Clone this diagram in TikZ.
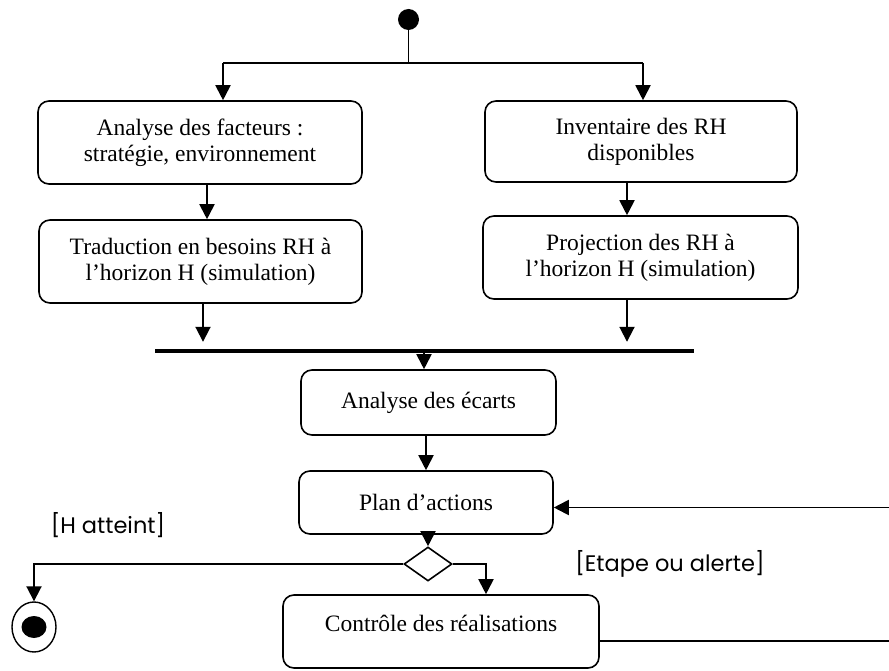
\documentclass[tikz,border=0pt]{standalone}
\usepackage{fontspec}
\setmainfont{Liberation Serif}
\newfontfamily\guardfont{Poppins}
\usetikzlibrary{arrows.meta,shapes.geometric}
\begin{document}
\begin{tikzpicture}[x=1pt,y=-1pt,
  act/.style={draw,line width=1.6pt,rounded corners=11pt,align=center,
    font=\fontsize{23.5}{26}\selectfont,inner sep=0pt},
  flow/.style={line width=1.9pt,-{Triangle[length=15pt,width=15pt]}},
  link/.style={line width=1.9pt},
  guard/.style={font=\guardfont\fontsize{22.5}{26}\selectfont,inner sep=0pt}]
\useasboundingbox (0,0) rectangle (889,671);
\clip (0,0) rectangle (889,671);

% initial node and fork
\node[circle,fill,inner sep=0pt,minimum size=21pt] (start) at (408.5,19.5) {};
\coordinate (fork) at (408.5,63);
\coordinate (forkL) at (223,63);
\coordinate (forkR) at (643,63);

% activities
\node[act,minimum width=324pt,minimum height=83pt] (facteurs) at (200,142.5)
  {Analyse des facteurs :\\stratégie, environnement};
\node[act,minimum width=312pt,minimum height=81pt] (inventaire) at (641,141.5)
  {Inventaire des RH\\disponibles};
\node[act,minimum width=323pt,minimum height=83pt] (traduction) at (200.5,261.5)
  {Traduction en besoins RH à\\l’horizon H (simulation)};
\node[act,minimum width=315pt,minimum height=83pt] (projection) at (640.5,257.5)
  {Projection des RH à\\l’horizon H (simulation)};

% join bar
\node[fill,inner sep=0pt,minimum width=539pt,minimum height=4pt] (join) at (424.5,351) {};

\node[act,minimum width=255pt,minimum height=65pt] (ecarts) at (428.5,402.5)
  {Analyse des écarts};
\node[act,minimum width=254pt,minimum height=63pt] (plan) at (426,502.5)
  {Plan d’actions};

% decision
\node[diamond,draw,line width=1.6pt,inner sep=0pt,minimum width=48pt,
  minimum height=34pt] (choice) at (428,564) {};

\node[act,minimum width=316pt,minimum height=73pt] (controle) at (441,631.5) {};
\node[font=\fontsize{23.5}{26}\selectfont,inner sep=0pt] (controleText) at (441,623)
  {Contrôle des réalisations};

% final node
\node[ellipse,draw,line width=1.4pt,minimum width=44pt,minimum height=50pt,
  inner sep=0pt] (end) at (34,627) {};
\fill (end.center) ellipse [x radius=12.5, y radius=11];

% guards
\node[guard] (hGuard) at (108,525) {[H atteint]};
\node[guard] (eGuard) at (670,564) {[Etape ou alerte]};

% columns of the vertical connectors
\coordinate (colA) at (207,0);
\coordinate (colB) at (203,0);
\coordinate (colC) at (627,0);
\coordinate (colD) at (424,0);
\coordinate (colE) at (426,0);

% connectors
\draw[link] (start) -- (fork);
\draw[link] (forkL) -- (forkR);
\draw[flow] (forkL) -- (forkL |- facteurs.north);
\draw[flow] (forkR) -- (forkR |- inventaire.north);
\draw[flow] (facteurs.south -| colA) -- (traduction.north -| colA);
\draw[flow] (inventaire.south -| colC) -- (projection.north -| colC);
\draw[flow,shorten >=7pt] (traduction.south -| colB) -- (join.north -| colB);
\draw[flow,shorten >=7pt] (projection.south -| colC) -- (join.north -| colC);
\draw[flow] (join.south -| colD) -- (ecarts.north -| colD);
\draw[flow] (ecarts.south -| colE) -- (plan.north -| colE);
\draw[flow] (plan.south -| choice.north) -- (choice.north);
\draw[flow] (choice.west) -- (end.north |- choice.west) -- (end.north);
\coordinate (toCtl) at (486,564);
\draw[flow] (choice.east) -- (toCtl) -- (toCtl |- controle.north);
% feedback loop leaving the picture on the right
\coordinate (ctlOut) at ([yshift=-9.5pt]controle.east);
\coordinate (planIn) at ([yshift=-5pt]plan.east);
\coordinate (loopR) at (900,560);
\draw[flow] (ctlOut) -- (loopR |- ctlOut) -- (loopR |- planIn) -- (planIn);
\end{tikzpicture}
\end{document}
